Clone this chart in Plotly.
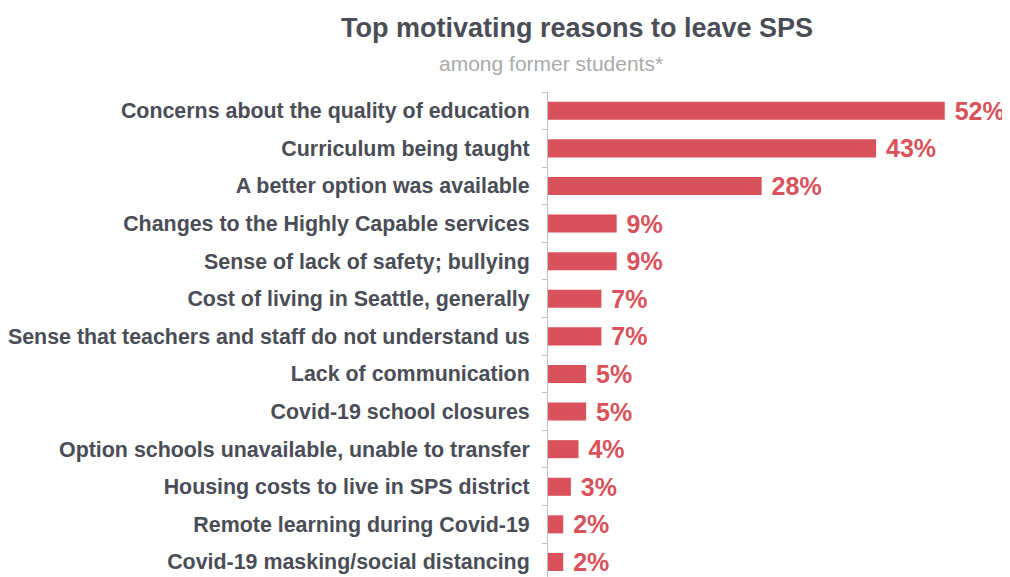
import plotly.graph_objects as go

categories = [
    "Concerns about the quality of education",
    "Curriculum being taught",
    "A better option was available",
    "Changes to the Highly Capable services",
    "Sense of lack of safety; bullying",
    "Cost of living in Seattle, generally",
    "Sense that teachers and staff do not understand us",
    "Lack of communication",
    "Covid-19 school closures",
    "Option schools unavailable, unable to transfer",
    "Housing costs to live in SPS district",
    "Remote learning during Covid-19",
    "Covid-19 masking/social distancing",
]
values = [52, 43, 28, 9, 9, 7, 7, 5, 5, 4, 3, 2, 2]

title_text = "Top motivating reasons to leave SPS"
subtitle_text = "among former students*"

bar_color = "#D9515B"
text_dark = "#4A4D56"
FONT = "Liberation Sans, Arial, sans-serif"

# page offset (browser body margin)
OFF = 8
W, H = 1010 - OFF, 577 - OFF
l, r, t, b = 548 - OFF, 0, 92 - OFF, 0
pw, ph = W - l - r, H - t - b

fig = go.Figure(
    go.Bar(
        x=values,
        y=categories,
        orientation="h",
        marker=dict(color=bar_color, line=dict(width=0)),
        texttemplate=" %{x}%",
        textposition="outside",
        constraintext="none",
        textfont=dict(family=FONT, size=25, color=bar_color, weight="bold"),
        cliponaxis=False,
        hoverinfo="skip",
    )
)


def ann(text, px, py, size, color):
    return dict(
        text=text,
        x=(px - OFF - l) / pw,
        y=(H - b - (py - OFF)) / ph,
        xref="paper", yref="paper",
        xanchor="center", yanchor="middle",
        showarrow=False,
        font=dict(family=FONT, size=size, color=color),
    )


fig.update_layout(
    width=W,
    height=H,
    margin=dict(l=l, r=r, t=t, b=b, autoexpand=False),
    paper_bgcolor="white",
    plot_bgcolor="white",
    bargap=0.52,
    showlegend=False,
    font=dict(family=FONT),
    xaxis=dict(range=[0, 462 / 7.63], visible=False, showgrid=False, zeroline=False),
    yaxis=dict(
        range=[12.4, -0.5],
        showgrid=False,
        zeroline=False,
        showline=True,
        linecolor="#BFBFBF",
        linewidth=1,
        ticks="outside",
        tickson="boundaries",
        ticklen=5,
        tickcolor="#BFBFBF",
        ticklabelstandoff=13,
        tickfont=dict(family=FONT, size=21.4, color=text_dark, weight="bold"),
    ),
    annotations=[
        ann("<b>" + title_text + "</b>", 577, 28, 27, text_dark),
        ann(subtitle_text, 551, 64, 21, "#AAAAAA"),
    ],
)

fig.write_html("out.html")
